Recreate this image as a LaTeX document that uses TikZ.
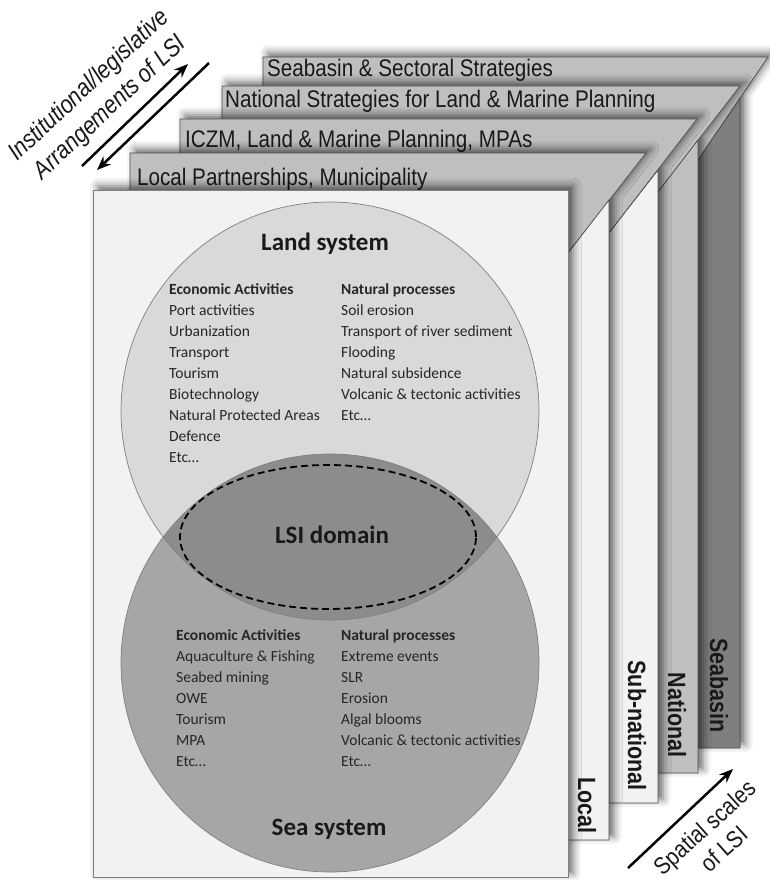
\documentclass[tikz,border=0pt]{standalone}
\usepackage{fontspec}
\setmainfont{Carlito}
\newfontfamily\narrowfont[FakeStretch=0.86]{Liberation Sans}
\usetikzlibrary{
    arrows.meta,
    shadows.blur,
    positioning
}

\definecolor{tabgray}{HTML}{BFBFBF}
\definecolor{paper}{HTML}{F2F2F2}
\definecolor{natgray}{HTML}{C0C0C0}
\definecolor{basingray}{HTML}{7F7F7F}
\definecolor{edgegray}{HTML}{4D4D4D}
\definecolor{rimgray}{HTML}{808080}
\definecolor{landfill}{HTML}{D9D9D9}
\definecolor{seafill}{HTML}{A6A6A6}
\definecolor{lensfill}{HTML}{8C8C8C}

\tikzset{
    slab/.style={draw=edgegray, line width=0.7pt},
    dropshadow/.style={blur shadow={shadow xshift=5pt, shadow yshift=4pt,
        shadow blur radius=8pt, shadow opacity=60}},
    tabtext/.style={anchor=base west, inner sep=0pt, text=black!90,
        font=\narrowfont\fontsize{24}{28}\selectfont},
    scaletext/.style={rotate=-90, anchor=east, inner sep=0pt, text=black!90,
        font=\narrowfont\bfseries\fontsize{25}{30}\selectfont},
    listtext/.style={anchor=north west, inner sep=0pt, align=left, text=black!85,
        font=\fontsize{15.5}{21}\selectfont},
    titletext/.style={anchor=base, inner sep=0pt, text=black!90,
        font=\bfseries\fontsize{25}{30}\selectfont},
    sidetext/.style={inner sep=0pt, align=center, text=black!90,
        font=\narrowfont\fontsize{24}{29}\selectfont},
    scalearrow/.style={line width=2.5pt, -{Stealth[length=14pt, width=11pt]}}
}

\begin{document}
\begin{tikzpicture}[x=1pt, y=-1pt]
    \useasboundingbox (0,0) rectangle (769,880);

    % seabasin layer
    \path[dropshadow] (263,57) -- (768,57) -- (740,98) -- (740,748) -- (698,748) -- (698,160) -- (263,160) -- cycle;
    \filldraw[slab, fill=tabgray] (263,57) -- (768,57) -- (698,160) -- (263,160) -- cycle;
    \filldraw[slab, fill=basingray] (740,98) -- (740,748) -- (698,748) -- (698,160) -- cycle;
    \node[tabtext] (seabasintab) at (267,77) {Seabasin \& Sectoral Strategies};
    \node[scaletext] (seabasinlbl) at (719,733) {Seabasin};

    % national layer
    \path[dropshadow] (222,86) -- (740,86) -- (698,140) -- (698,773) -- (658,773) -- (658,192) -- (222,192) -- cycle;
    \filldraw[slab, fill=tabgray] (222,86) -- (740,86) -- (658,192) -- (222,192) -- cycle;
    \filldraw[slab, fill=natgray] (698,140) -- (698,773) -- (658,773) -- (658,192) -- cycle;
    \node[tabtext] (nationaltab) at (225,107) {National Strategies for Land \& Marine Planning};
    \node[scaletext] (nationallbl) at (677,758) {National};

    % sub-national layer
    \path[dropshadow] (180,119) -- (697,119) -- (658,170) -- (658,803) -- (609,803) -- (609,233) -- (180,233) -- cycle;
    \filldraw[slab, fill=tabgray] (180,119) -- (697,119) -- (609,233) -- (180,233) -- cycle;
    \filldraw[slab, fill=paper] (658,170) -- (658,803) -- (609,803) -- (609,233) -- cycle;
    \node[tabtext] (iczmtab) at (185,147) {ICZM, Land \& Marine Planning, MPAs};
    \node[scaletext] (subnatlbl) at (637,791) {Sub-national};

    % local layer
    \path[dropshadow] (130,153) -- (646,153) -- (609,200) -- (609,840) -- (568,840) -- (568,253) -- (130,253) -- cycle;
    \filldraw[slab, fill=tabgray] (130,153) -- (646,153) -- (568,253) -- (130,253) -- cycle;
    \filldraw[slab, fill=paper] (609,200) -- (609,840) -- (568,840) -- (568,253) -- cycle;
    \node[tabtext] (localtab) at (137,185) {Local Partnerships, Municipality};
    \node[scaletext] (locallbl) at (587,834) {Local};

    % venn box
    \filldraw[dropshadow, fill=paper, draw=rimgray, line width=0.7pt] (93,190) rectangle (568,877);
    \coordinate (landc) at (330,411);
    \coordinate (seac) at (330,663);
    \fill[landfill] (landc) circle[radius=209pt];
    \fill[seafill] (seac) circle[radius=209pt];
    \begin{scope}
        \clip (landc) circle[radius=209pt];
        \fill[lensfill] (seac) circle[radius=209pt];
    \end{scope}
    \draw[rimgray, line width=0.7pt] (landc) circle[radius=209pt] (seac) circle[radius=209pt];
    \draw[line width=1.8pt, dash pattern=on 7pt off 4pt] (328,537) ellipse[x radius=148pt, y radius=72pt];

    \node[titletext] (landtitle) at (325,250) {Land system};
    \node[titletext] (lsititle) at (332,543) {LSI domain};
    \node[titletext] (seatitle) at (329,835) {Sea system};

    \node[listtext] (landecon) at (169,283) {\textbf{Economic Activities}\\Port activities\\Urbanization\\Transport\\Tourism\\Biotechnology\\Natural Protected Areas\\Defence\\Etc\ldots};
    \node[listtext] (landnat) at (341,283) {\textbf{Natural processes}\\Soil erosion\\Transport of river sediment\\Flooding\\Natural subsidence\\Volcanic \& tectonic activities\\Etc\ldots};
    \node[listtext] (seaecon) at (176,629) {\textbf{Economic Activities}\\Aquaculture \& Fishing\\Seabed mining\\OWE\\Tourism\\MPA\\Etc\ldots};
    \node[listtext] (seanat) at (341,629) {\textbf{Natural processes}\\Extreme events\\SLR\\Erosion\\Algal blooms\\Volcanic \& tectonic activities\\Etc\ldots};

    % arrangements arrows
    \coordinate (arrupfrom) at (82,166);
    \coordinate (arrupto) at (188,64);
    \coordinate (arrdownfrom) at (209,63);
    \coordinate (arrdownto) at (97,170);
    \draw[scalearrow] (arrupfrom) -- (arrupto);
    \draw[scalearrow] (arrdownfrom) -- (arrdownto);
    \node[sidetext, rotate=43, font=\narrowfont\itshape\fontsize{25}{31}\selectfont] (arrlbl) at (100,97) {Institutional/legislative\\Arrangements of LSI};

    % spatial scales arrow
    \coordinate (scalefrom) at (628,868);
    \coordinate (scaleto) at (733,769);
    \draw[scalearrow] (scalefrom) -- (scaleto);
    \node[sidetext, rotate=42] (scalelbl) at (714,838) {Spatial scales\\of LSI};
\end{tikzpicture}
\end{document}
